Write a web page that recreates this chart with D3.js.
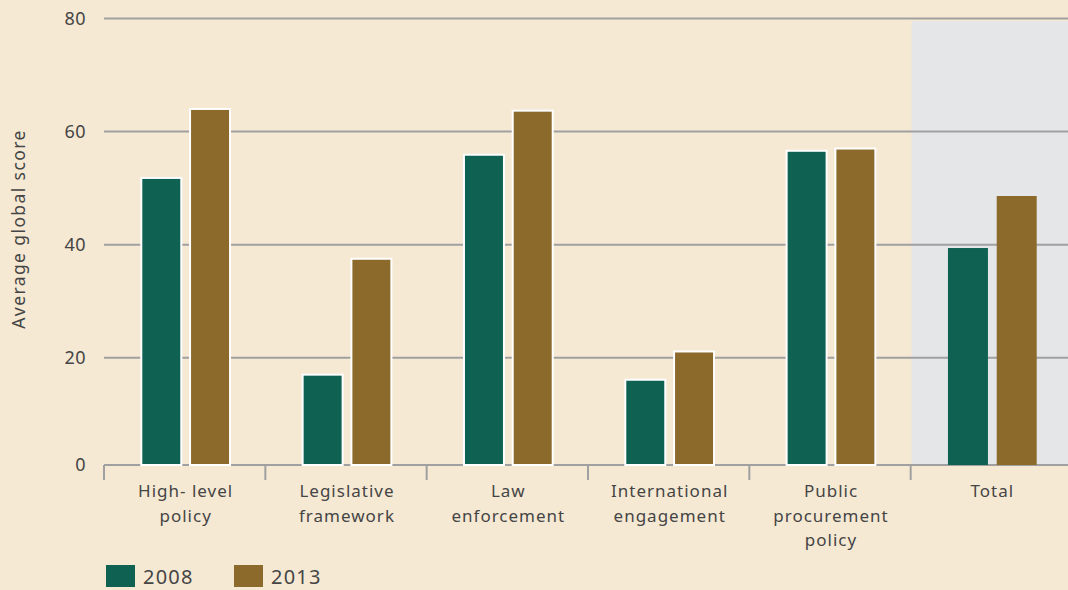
<!DOCTYPE html>
<html>
<head>
<meta charset="utf-8">
<script src="https://cdn.jsdelivr.net/npm/d3@7"></script>
<style>
  body { margin: 0; background: #f5e9d4; }
  svg { display: block; }
  text { font-family: "Noto Sans", "Open Sans", sans-serif; fill: #454545; }
</style>
</head>
<body>
<div id="chart"></div>
<script>
const categories = [
  ["High- level", "policy"],
  ["Legislative", "framework"],
  ["Law", "enforcement"],
  ["International", "engagement"],
  ["Public", "procurement", "policy"],
  ["Total"]
];
const series = ["2008", "2013"];
const values2008 = [51.8, 17.0, 55.9, 16.1, 56.6, 39.4];
const values2013 = [64.0, 37.5, 63.7, 21.1, 57.0, 48.6];
const yTicks = [0, 20, 40, 60, 80];

const COLORS = { "2008": "#0f6152", "2013": "#8c6a2c" };
const W = 1068, H = 590;
const LEFT = 104;
const BASE = 465; // where the axis line / bar bottoms sit

const svg = d3.select("#chart").append("svg")
  .attr("width", W).attr("height", H);

svg.append("rect").attr("width", W).attr("height", H).attr("fill", "#f5e9d4");

const x0 = d3.scaleBand()
  .domain(d3.range(categories.length))
  .range([LEFT, 1072]);

// gridlines 20..80 are evenly spaced; the 0 axis sits a little higher
const y = d3.scaleLinear().domain([20, 80]).range([357.7, 18.5]);
const yPos = v => v === 0 ? BASE : y(v);

const groupW = x0.bandwidth() * 0.55;
const x1 = d3.scaleBand().domain(series).range([0, groupW]).paddingInner(0.18);

// grey panel behind "Total"
const lastX = x0(categories.length - 1);
svg.append("rect")
  .attr("x", lastX + 1)
  .attr("y", y(80) + 2.5)
  .attr("width", W - lastX)
  .attr("height", BASE - y(80) - 2.5)
  .attr("fill", "#e5e6e7");

// gridlines
svg.append("g").selectAll("line").data(yTicks).join("line")
  .attr("x1", LEFT).attr("x2", W)
  .attr("y1", d => yPos(d)).attr("y2", d => yPos(d))
  .attr("stroke", "#a0a0a0").attr("stroke-width", 2);

// y tick labels
svg.append("g").selectAll("text").data(yTicks).join("text")
  .attr("x", 86).attr("y", d => yPos(d))
  .attr("dy", "0.36em")
  .attr("text-anchor", "end")
  .style("font-size", "18px")
  .style("letter-spacing", "0.5px")
  .text(d => d);

// y title
svg.append("text")
  .attr("transform", `translate(25, 229) rotate(-90)`)
  .attr("text-anchor", "middle")
  .style("font-size", "17.5px")
  .style("letter-spacing", "1.4px")
  .text("Average global score");

// category boundary ticks
const boundaries = d3.range(categories.length).map(i => x0(i));
svg.append("g").selectAll("line").data(boundaries).join("line")
  .attr("x1", d => d).attr("x2", d => d)
  .attr("y1", BASE).attr("y2", BASE + 15)
  .attr("stroke", "#a0a0a0").attr("stroke-width", 2);

// bars
const rows = categories.map((c, i) => ({ i, vals: { "2008": values2008[i], "2013": values2013[i] } }));
const groups = svg.append("g").selectAll("g").data(rows).join("g")
  .attr("transform", d => `translate(${x0(d.i) + (x0.bandwidth() - groupW) / 2 + 1},0)`);

groups.selectAll("rect").data(d => series.map(s => ({ s, v: d.vals[s], total: d.i === categories.length - 1 })))
  .join("rect")
  .attr("x", d => x1(d.s))
  .attr("y", d => y(d.v))
  .attr("width", x1.bandwidth())
  .attr("height", d => BASE - y(d.v))
  .attr("fill", d => COLORS[d.s])
  .attr("stroke", d => d.total ? "none" : "#ffffff")
  .attr("stroke-width", 2);

// x labels
const labels = svg.append("g").selectAll("text").data(categories).join("text")
  .attr("text-anchor", "middle")
  .attr("transform", (d, i) => `translate(${x0(i) + x0.bandwidth() / 2 + 1}, 497)`)
  .style("font-size", "17px")
  .style("letter-spacing", "1px");
labels.selectAll("tspan").data(d => d).join("tspan")
  .attr("x", 0)
  .attr("y", (d, j) => j * 24.5)
  .text(d => d);

// legend
const legend = svg.append("g").selectAll("g").data(series).join("g")
  .attr("transform", (d, i) => `translate(${106 + i * 128}, 565)`);
legend.append("rect")
  .attr("width", 29).attr("height", 22)
  .attr("fill", d => COLORS[d]);
legend.append("text")
  .attr("x", 37).attr("y", 19)
  .style("font-size", "20px")
  .style("letter-spacing", "1.2px")
  .text(d => d);
</script>
</body>
</html>
